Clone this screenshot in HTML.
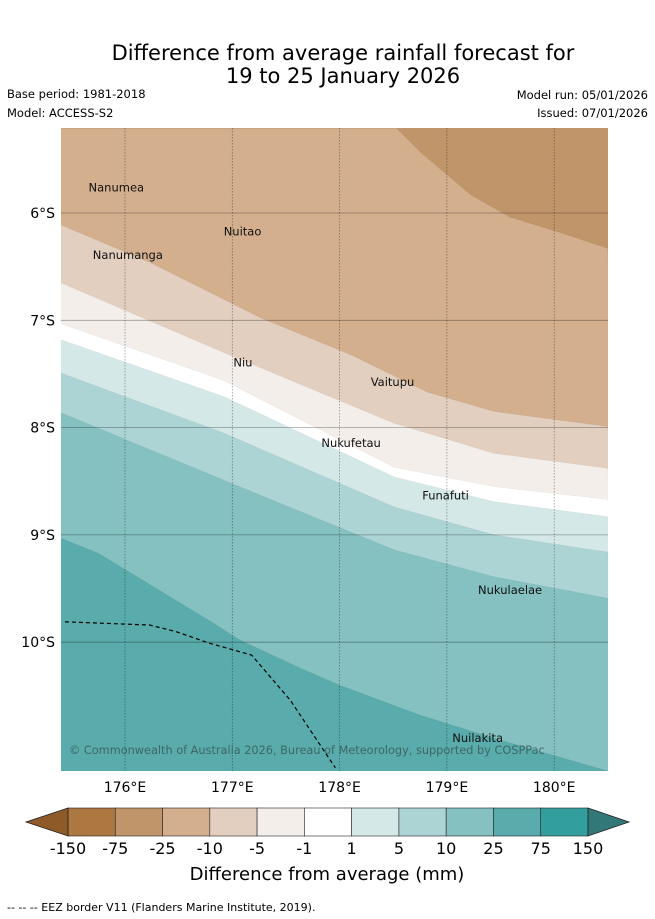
<!DOCTYPE html>
<html><head><meta charset="utf-8"><style>
body{margin:0;background:#fff;width:655px;height:919px;overflow:hidden;font-family:"DejaVu Sans","Liberation Sans",sans-serif;}
svg{position:absolute;left:0;top:0}
</style></head><body>
<svg id="c" width="655" height="919" xmlns="http://www.w3.org/2000/svg">
<text x="343" y="60" font-size="21" text-anchor="middle">Difference from average rainfall forecast for</text>
<text x="343" y="83" font-size="21" text-anchor="middle">19 to 25 January 2026</text>
<text x="7" y="98" font-size="11.5">Base period: 1981-2018</text>
<text x="7" y="117" font-size="11.5">Model: ACCESS-S2</text>
<text x="648" y="99" font-size="11.5" text-anchor="end">Model run: 05/01/2026</text>
<text x="648" y="117" font-size="11.5" text-anchor="end">Issued: 07/01/2026</text>
<defs><clipPath id="mc"><rect x="61" y="128" width="547" height="643"/></clipPath></defs>
<g id="map" clip-path="url(#mc)"></g>
<g id="grid"></g>
<g id="labels"></g>
<g id="cbar"></g>
<text x="327" y="880" font-size="18" text-anchor="middle">Difference from average (mm)</text>
<text x="7" y="911" font-size="11">--  --  -- EEZ border V11 (Flanders Marine Institute, 2019).</text>
</svg>
<script>
const NS="http://www.w3.org/2000/svg";
// data
const lonTicks=[176,177,178,179,180];
const latTicks=[6,7,8,9,10];
const levels=[-150,-75,-25,-10,-5,-1,1,5,10,25,75,150];
const colors=["#ad7742","#c0956a","#d3af8e","#e3cfbf","#f3eee9","#ffffff","#d5e8e8","#acd4d4","#85c1c1","#5aabab","#339e9e"];
// boundaries [lon, latS]
const bDark=[[175.40,5.21],[178.53,5.21],[178.75,5.43],[179.22,5.83],[179.59,6.04],[180.05,6.18],[180.5,6.33]];
const bM10=[[175.40,6.11],[176.23,6.46],[177.27,6.98],[178.10,7.32],[178.82,7.67],[179.44,7.85],[180.5,7.99]];
const bM5=[[175.40,6.65],[176.92,7.30],[178.51,7.96],[179.44,8.24],[180.5,8.38]];
const bM1=[[175.40,7.03],[176.92,7.56],[178.51,8.37],[179.44,8.55],[180.5,8.67]];
const bP1=[[175.40,7.18],[176.92,7.71],[178.51,8.46],[179.44,8.69],[180.5,8.83]];
const bP5=[[175.40,7.49],[176.92,8.05],[178.51,8.74],[179.44,9.00],[180.5,9.16]];
const bP10=[[175.40,7.86],[176.92,8.49],[178.51,9.14],[179.44,9.39],[180.5,9.59]];
const bP25=[[175.40,9.03],[175.75,9.17],[176.77,9.79],[177.07,9.98],[177.63,10.24],[178.00,10.40],[178.75,10.68],[179.49,10.91],[180.5,11.20]];
const eez=[[175.44,9.81],[176.23,9.84],[176.47,9.90],[176.79,10.01],[177.18,10.12],[177.54,10.54],[177.96,11.17]];
const islandNames=["Nanumea","Nuitao","Nanumanga","Niu","Vaitupu","Nukufetau","Funafuti","Nukulaelae","Nuilakita"];
const islandLon=[175.66,176.92,175.70,177.01,178.29,177.83,178.77,179.29,179.05];
const islandLat=[5.80,6.21,6.43,7.43,7.61,8.18,8.67,9.55,10.93];
const X=lon=>125+(lon-176)*107.3, Y=lat=>213+(lat-6)*107.3;
function mk(t,a,p){const e=document.createElementNS(NS,t);for(const k in a)e.setAttribute(k,a[k]);p.appendChild(e);return e;}
const map=document.getElementById('map');
let bg=mk('rect',{x:61,y:128,width:547,height:643,fill:colors[1]},map);


const bounds=[bDark,bM10,bM5,bM1,bP1,bP5,bP10,bP25];
const bandNames=['band-minus25-minus10','band-minus10-minus5','band-minus5-minus1','band-minus1-1','band-1-5','band-5-10','band-10-25','band-25-75'];
bounds.forEach((b,i)=>{
  let pts=b.map(p=>X(p[0])+','+Y(p[1]));
  pts.push('620,790','50,790');
  const e=mk('polygon',{points:pts.join(' '),fill:colors[i+2],stroke:'rgba(0,0,0,0.06)','stroke-width':0.6},map);
  
  
});
const ez=mk('polyline',{points:eez.map(p=>X(p[0])+','+Y(p[1])).join(' '),fill:'none',stroke:'#000','stroke-width':1.2,'stroke-dasharray':'4,3'},map);


const g=document.getElementById('grid');
lonTicks.forEach(l=>{
  const e=mk('line',{x1:X(l),x2:X(l),y1:128,y2:771,stroke:'rgba(0,0,0,0.45)','stroke-width':0.7,'stroke-dasharray':'1.5,1.5'},g);
  
  
  const t=mk('text',{x:X(l),y:792,'font-size':14,'text-anchor':'middle'},g);t.textContent=l+'°E';
  
  
});
latTicks.forEach(l=>{
  const e=mk('line',{x1:61,x2:608,y1:Y(l),y2:Y(l),stroke:'rgba(0,0,0,0.35)','stroke-width':0.8},g);
  
  
  const t=mk('text',{x:55,y:Y(l)+5,'font-size':14,'text-anchor':'end'},g);t.textContent=l+'°S';
  
  
});
const cr=mk('text',{x:69,y:754,'font-size':11.3,fill:'#3a5a5a','fill-opacity':0.85},g);
cr.textContent='© Commonwealth of Australia 2026, Bureau of Meteorology, supported by COSPPac';


const lb=document.getElementById('labels');
islandNames.forEach((n,i)=>{
  const t=mk('text',{x:X(islandLon[i]),y:Y(islandLat[i]),'font-size':11.5,'text-anchor':'start',fill:'#111'},lb);
  t.textContent=n;
  
  
});
const cb=document.getElementById('cbar');
const cx0=68,cw=(588-68)/11;
colors.forEach((c,i)=>{
  const e=mk('rect',{x:cx0+i*cw,y:808,width:cw,height:28,fill:c,stroke:'#222','stroke-width':0.6},cb);
  
  
});
let lt=mk('polygon',{points:'68,808 26,822 68,836',fill:'#8e5a28',stroke:'#222','stroke-width':0.8},cb);


let rt=mk('polygon',{points:'588,808 629,822 588,836',fill:'#327878',stroke:'#222','stroke-width':0.8},cb);


levels.forEach((v,i)=>{
  const t=mk('text',{x:cx0+i*cw,y:854,'font-size':16,'text-anchor':'middle'},cb);t.textContent=v;
  
  
});
</script>
</body></html>
